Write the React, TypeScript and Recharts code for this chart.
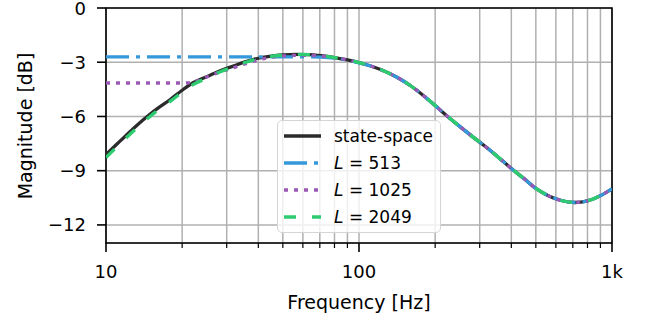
import React from "react";
import {
  LineChart,
  Line,
  XAxis,
  YAxis,
  CartesianGrid,
  ReferenceArea,
} from "recharts";

// frequency points (Hz), log spaced
const freqs = [
  10, 11, 12, 13, 14, 15, 16, 18, 20, 22, 25, 28, 32, 36, 40, 45, 50, 56, 63, 71,
  80, 90, 100, 112, 125, 140, 160, 180, 200, 224, 250, 280, 315, 355, 400, 450,
  500, 560, 630, 710, 800, 900, 1000,
];

// magnitudes in dB
const stateSpace = [
  -8.1, -7.55, -7.05, -6.6, -6.2, -5.85, -5.55, -5.05, -4.55, -4.15, -3.8, -3.5,
  -3.2, -2.95, -2.78, -2.66, -2.6, -2.57, -2.58, -2.64, -2.74, -2.87, -3.02, -3.22,
  -3.47, -3.8, -4.3, -4.85, -5.4, -6.0, -6.55, -7.1, -7.65, -8.25, -8.88, -9.45,
  -9.98, -10.38, -10.65, -10.76, -10.67, -10.38, -10.0,
];
const l513 = [
  -2.7, -2.7, -2.7, -2.7, -2.7, -2.7, -2.7, -2.7, -2.7, -2.7, -2.7, -2.7, -2.7,
  -2.7, -2.7, -2.7, -2.7, -2.7, -2.7, -2.72, -2.78, -2.89, -3.03, -3.22, -3.47,
  -3.8, -4.3, -4.85, -5.4, -6.0, -6.55, -7.1, -7.65, -8.25, -8.88, -9.45, -9.98,
  -10.38, -10.65, -10.76, -10.67, -10.38, -10.0,
];
const l1025 = [
  -4.15, -4.15, -4.15, -4.15, -4.15, -4.15, -4.15, -4.15, -4.15, -4.1, -3.82, -3.56,
  -3.3, -3.06, -2.87, -2.72, -2.65, -2.62, -2.62, -2.66, -2.75, -2.87, -3.02, -3.22,
  -3.47, -3.8, -4.3, -4.85, -5.4, -6.0, -6.55, -7.1, -7.65, -8.25, -8.88, -9.45,
  -9.98, -10.38, -10.65, -10.76, -10.67, -10.38, -10.0,
];
const l2049 = [
  -8.27, -7.7, -7.19, -6.74, -6.33, -5.97, -5.67, -5.15, -4.66, -4.25, -3.88, -3.56,
  -3.25, -2.99, -2.8, -2.67, -2.61, -2.57, -2.58, -2.64, -2.74, -2.87, -3.02, -3.22,
  -3.47, -3.8, -4.3, -4.85, -5.4, -6.0, -6.55, -7.1, -7.65, -8.25, -8.88, -9.45,
  -9.98, -10.38, -10.65, -10.76, -10.67, -10.38, -10.0,
];

const xTicks = [10, 20, 30, 40, 50, 60, 70, 80, 90, 100, 200, 300, 400, 500, 600, 700, 800, 900, 1000];
const xMajor = [10, 100, 1000];
const xLabels: Record<number, string> = { 10: "10", 100: "100", 1000: "1k" };
const yTicks = [0, -3, -6, -9, -12];

const data = freqs.map((f, i) => ({
  f,
  ss: stateSpace[i],
  a: l513[i],
  b: l1025[i],
  c: l2049[i],
}));

const FONT = "'DejaVu Sans', sans-serif";
const LW = 3.3;

const series = [
  { key: "ss", color: "#2b2b2b", dash: undefined as string | undefined, label: "state-space", L: "" },
  { key: "a", color: "#3498db", dash: "23 7 4 7", label: "", L: "513" },
  { key: "b", color: "#9b59b6", dash: "4 6", label: "", L: "1025" },
  { key: "c", color: "#2ecc71", dash: "12 16", label: "", L: "2049" },
];

const XTick = (props: any) => {
  const { x, y, payload } = props;
  const v = payload.value;
  const major = xMajor.includes(v);
  return (
    <g>
      <line x1={x} x2={x} y1={y} y2={y + (major ? 9 : 5)} stroke="#000" strokeWidth={major ? 1.6 : 1.2} />
      {major && (
        <text x={x} y={y + 35} textAnchor="middle" fontSize={18} fontFamily={FONT} fill="#000">
          {xLabels[v]}
        </text>
      )}
    </g>
  );
};

const YTick = (props: any) => {
  const { x, y, payload } = props;
  const v = payload.value as number;
  return (
    <g>
      <line x1={x - 9} x2={x} y1={y} y2={y} stroke="#000" strokeWidth={1.6} />
      <text x={x - 20} y={y + 6.5} textAnchor="end" fontSize={18} fontFamily={FONT} fill="#000">
        {v === 0 ? "0" : "\u2212" + Math.abs(v)}
      </text>
    </g>
  );
};

// legend drawn as an overlay so it doesn't shrink the plot area
const LegendBox = () => (
  <div
    style={{
      position: "absolute",
      left: 277,
      top: 120,
      width: 164,
      height: 113,
      boxSizing: "border-box",
      border: "1.5px solid #d5d5d5",
      borderRadius: 5,
      background: "rgba(255,255,255,0.8)",
      paddingTop: 2,
      fontFamily: FONT,
      fontSize: 17,
      color: "#000",
    }}
  >
    {series.map((s) => (
      <div key={s.key} style={{ display: "flex", alignItems: "center", height: 26.8 }}>
        <svg width={56} height={12}>
          <line x1={6} x2={43} y1={6} y2={6} stroke={s.color} strokeWidth={LW} strokeDasharray={s.dash} />
        </svg>
        <span style={{ whiteSpace: "nowrap" }}>
          {s.L ? (
            <>
              <i>L</i> = {s.L}
            </>
          ) : (
            s.label
          )}
        </span>
      </div>
    ))}
  </div>
);

export default function App() {
  return (
    <div style={{ position: "absolute", left: 0, top: 0, width: 646, height: 324, background: "#fff" }}>
      <LineChart width={646} height={324} data={data} margin={{ top: 8, right: 34, left: 0, bottom: 0 }}>
        <CartesianGrid stroke="#b0b0b0" strokeWidth={1.5} />
        <XAxis
          dataKey="f"
          type="number"
          scale="log"
          domain={[10, 1000]}
          allowDataOverflow
          ticks={xTicks}
          interval={0}
          height={81}
          tickSize={0}
          tickMargin={0}
          tickLine={false}
          axisLine={false}
          tick={<XTick />}
        />
        <YAxis
          type="number"
          domain={[-13, 0]}
          allowDataOverflow
          ticks={yTicks}
          interval={0}
          width={106}
          tickSize={0}
          tickMargin={0}
          tickLine={false}
          axisLine={false}
          tick={<YTick />}
        />
        <ReferenceArea x1={10} x2={1000} y1={-13} y2={0} fill="none" stroke="#000" strokeWidth={1.6} />
        {series.map((s) => (
          <Line
            key={s.key}
            dataKey={s.key}
            type="monotone"
            stroke={s.color}
            strokeWidth={LW}
            strokeDasharray={s.dash}
            dot={false}
            isAnimationActive={false}
          />
        ))}
      </LineChart>
      <LegendBox />
      <svg width={646} height={324} style={{ position: "absolute", left: 0, top: 0, pointerEvents: "none" }}>
        <text x={359} y={309} textAnchor="middle" fontSize={19} fontFamily={FONT} fill="#000">
          Frequency [Hz]
        </text>
        <text
          x={32}
          y={126}
          transform="rotate(-90 32 126)"
          textAnchor="middle"
          fontSize={19}
          fontFamily={FONT}
          fill="#000"
        >
          Magnitude [dB]
        </text>
      </svg>
    </div>
  );
}
